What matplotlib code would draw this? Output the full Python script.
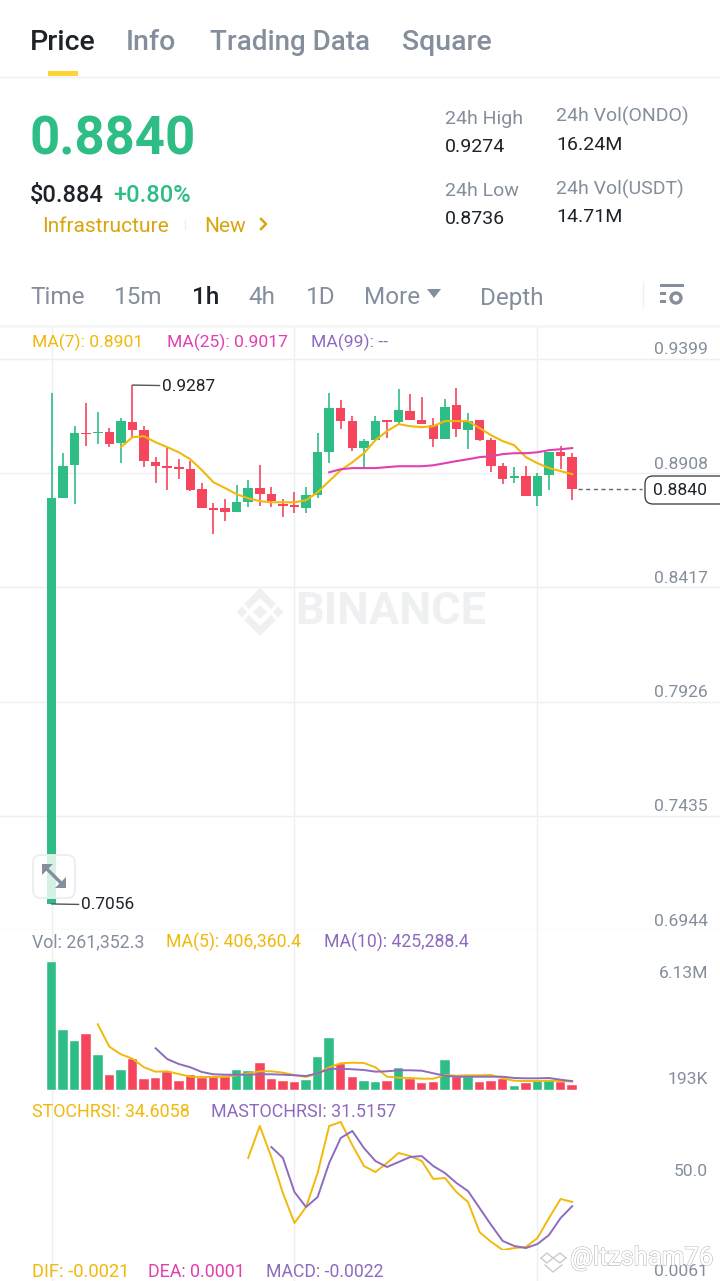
import numpy as np
import matplotlib
matplotlib.use('Agg')
import matplotlib.pyplot as plt
import matplotlib.patheffects as pe
from matplotlib.patches import FancyBboxPatch, Polygon, Rectangle, Circle

plt.rcParams['font.family'] = ['Roboto', 'DejaVu Sans']

# candles
opens = [.7056, .8800, .8942, .9082, .9080, .9084, .9037, .9127, .9093, .8955, .8938, .8934, .8925, .8839, .8757, .8757,
         .8740, .8783, .8844, .8818, .8775, .8770, .8757, .8813, .8998, .9188, .9132, .9016, .9050, .9136, .9127, .9175,
         .9136, .9114, .9054, .9200, .9093, .9136, .9050, .8938, .8886, .8895, .8809, .8899, .8998, .8977]
highs = [.9252, .8994, .9110, .9209, .9170, .9102, .9145, .9287, .9110, .8977, .9020, .8968, .8960, .8865, .8779, .8796,
         .8856, .8878, .8942, .8848, .8796, .8826, .8848, .9080, .9252, .9222, .9153, .9054, .9153, .9136, .9269, .9248,
         .9235, .9145, .9226, .9274, .9166, .9136, .9059, .8951, .8934, .8938, .8908, .8998, .9024, .8994]
lows = [.7056, .8800, .8775, .9024, .9033, .9020, .8951, .9063, .8934, .8865, .8835, .8882, .8831, .8757, .8646, .8702,
        .8740, .8762, .8766, .8762, .8719, .8736, .8736, .8800, .8951, .9097, .9003, .8930, .9050, .9059, .9114, .9136,
        .9119, .9020, .9054, .9063, .9011, .9046, .8912, .8861, .8865, .8809, .8766, .8835, .8925, .8792]
closes = [.8800, .8938, .9080, .9076, .9086, .9033, .9132, .9093, .8960, .8938, .8930, .8925, .8835, .8757, .8749, .8740,
          .8783, .8844, .8818, .8788, .8766, .8762, .8813, .8998, .9188, .9132, .9016, .9046, .9132, .9127, .9179, .9136,
          .9119, .9054, .9192, .9097, .9132, .9050, .8938, .8882, .8895, .8809, .8895, .8998, .8981, .8840]
ma7 = [.9020, .9063, .9067, .9041, .9020, .8998, .8968, .8921, .8869, .8844, .8818, .8800, .8788, .8783, .8783, .8783,
       .8792, .8826, .8874, .8921, .8955, .8994, .9050, .9089, .9119, .9110, .9106, .9110, .9132, .9132, .9132, .9102,
       .9071, .9046, .9028, .8977, .8951, .8930, .8917, .8904]
ma25 = [.8912, .8925, .8930, .8930, .8930, .8934, .8938, .8938, .8938, .8942, .8951, .8960, .8968, .8977, .8981, .8990,
        .8994, .8994, .8998, .9007, .9011, .9016]

# volume in thousands
volumes = [6130, 2874, 2361, 2682, 1676, 718, 943, 1499, 541, 589, 848, 431, 704, 560, 623, 623, 943, 910, 1279, 512, 431,
           383, 479, 1566, 2476, 1231, 637, 445, 383, 417, 1039, 512, 335, 369, 1423, 637, 623, 398, 417, 527, 192, 350,
           417, 417, 369, 261]
vol_ma5 = [3147, 2074, 1710, 1499, 1087, 877, 896, 766, 637, 623, 623, 637, 704, 800, 896, 896, 829, 719, 623, 800, 1087,
           1279, 1308, 1293, 1087, 637, 589, 575, 541, 541, 719, 685, 704, 704, 719, 560, 445, 431, 431, 445, 431, 406]
vol_ma10 = [1997, 1485, 1245, 1087, 862, 752, 733, 733, 733, 752, 752, 733, 704, 671, 800, 1006, 1020, 992, 958, 877, 896,
            944, 944, 925, 800, 685, 637, 637, 637, 637, 637, 575, 560, 560, 575, 493, 425]

stoch = [66.2, 89.2, 66.9, 41.0, 19.4, 30.9, 55.4, 89.2, 92.1, 75.5, 60.4, 56.1, 62.6, 69.8, 67.6, 64.0, 51.1, 51.8, 41.7,
         34.5, 12.9, 5.8, 0.0, 1.4, 2.2, 8.6, 23.0, 36.7, 34.6]
mastoch = [74.1, 66.2, 41.7, 30.9, 38.1, 62.6, 80.6, 85.6, 73.4, 64.0, 59.7, 63.3, 66.9, 67.6, 60.4, 55.4, 48.2, 42.4,
           30.2, 18.0, 6.5, 2.9, 1.4, 4.3, 10.8, 23.0, 31.5]

price_ticks = [0.9399, 0.8908, 0.8417, 0.7926, 0.7435, 0.6944]
time_ticks = [0, 21, 42]

GREEN = '#2EBD85'
RED = '#F6465D'
YELLOW = '#F0B90B'
PINK = '#E040B0'
PURPLE = '#8E6BBF'
GREY = '#848E9C'
DARK = '#1E2329'
LINE = '#EEEFF1'
MARK = '#EFF0F2'

W, H = 720, 1281
fig = plt.figure(figsize=(W / 100, H / 100), dpi=100, facecolor='white')


def panel(top, bottom):
    ax = fig.add_axes([0, 1 - bottom / H, 1, (bottom - top) / H])
    ax.set_xlim(-51.5 / 11.57, (W - 51.5) / 11.57)
    ax.set_xticks(time_ticks)
    ax.tick_params(length=0, labelbottom=False, labelleft=False)
    ax.grid(axis='x', color=LINE, lw=1)
    ax.set_axisbelow(True)
    for s in ['top', 'left', 'right']:
        ax.spines[s].set_visible(False)
    ax.spines['bottom'].set_color(LINE)
    return ax


ax_price = panel(326, 930)
ax_vol = panel(930, 1090)
ax_rsi = panel(1090, 1250)
ax_macd = panel(1250, H)
ax_macd.spines['bottom'].set_visible(False)
ax_macd.set_yticks([])

# price panel
per_px = 0.0491 / 114.2
ax_price.set_ylim(0.6944, 0.9399 + 33 * per_px)
ax_price.set_yticks(price_ticks)
ax_price.grid(axis='y', color=LINE, lw=1)
idx = np.arange(len(opens))
o = np.array(opens)
c = np.array(closes)
colors = [GREEN if b >= a else RED for a, b in zip(opens, closes)]
ax_price.vlines(idx, lows, highs, colors=colors, lw=1.2, zorder=3)
ax_price.bar(idx, np.abs(c - o), bottom=np.minimum(o, c), width=0.82, color=colors, zorder=3)
ax_price.plot(idx[6:], ma7, color=YELLOW, lw=1.5, zorder=4)
ax_price.plot(idx[24:], ma25, color=PINK, lw=1.5, zorder=4)
for p in price_ticks:
    ax_price.annotate(f'{p:.4f}', (1, p), xycoords=ax_price.get_yaxis_transform(), xytext=(-12, 9),
                      textcoords='offset pixels', ha='right', va='center', fontsize=12.6, color=GREY)

# callouts on the high, the low and the last price
ax_price.annotate('0.9287', (7, highs[7]), xytext=(30, -1), textcoords='offset pixels', va='center', fontsize=12.4,
                  color=DARK, arrowprops=dict(arrowstyle='-', color='#555', lw=1, shrinkA=0, shrinkB=0))
ax_price.annotate('0.7056', (0, lows[0]), xytext=(30, -1), textcoords='offset pixels', va='center', fontsize=12.4,
                  color=DARK, arrowprops=dict(arrowstyle='-', color='#555', lw=1, shrinkA=0, shrinkB=0))
ax_price.plot([45.5, 51], [closes[-1]] * 2, color='#666', lw=1, ls=(0, (3, 2.5)), zorder=4)

# volume panel
ax_vol.set_ylim(0, 160 * 6130 / 128)
ax_vol.set_yticks([])
ax_vol.bar(idx, volumes, width=0.82, color=colors, edgecolor='#ffffff', lw=0.3, zorder=3)
ax_vol.plot(idx[4:], vol_ma5, color=YELLOW, lw=1.4, zorder=4)
ax_vol.plot(idx[9:], vol_ma10, color=PURPLE, lw=1.4, zorder=4)

# stoch rsi panel
ax_rsi.set_ylim(0, 160 / 1.39)
ax_rsi.set_yticks([])
ax_rsi.plot(idx[17:], stoch, color=YELLOW, lw=1.4, zorder=4, clip_on=False)
ax_rsi.plot(idx[19:], mastoch, color=PURPLE, lw=1.4, zorder=4, clip_on=False)

# overlay in pixels for the app chrome
ui = fig.add_axes([0, 0, 1, 1], zorder=10)
ui.set_xlim(0, W)
ui.set_ylim(H, 0)
ui.axis('off')
ui.patch.set_alpha(0)


def label(x, y, s, size, color=GREY, **kw):
    # roboto sits a bit high with va=center
    ui.text(x, y + 2, s, fontsize=size, color=color, va='center', **kw)


label(30, 40, 'Price', 20.5, DARK, fontweight='medium')
label(126, 40, 'Info', 20.5, fontweight='medium')
label(210, 40, 'Trading Data', 20, fontweight='medium')
label(402, 40, 'Square', 20.5, fontweight='medium')
ui.add_patch(Rectangle((48, 71), 30, 5, color='#FCD535', lw=0))
ui.plot([0, W], [76.5, 76.5], color=LINE, lw=1)

label(30, 138, '0.8840', 38, GREEN, fontweight='bold')
label(30, 193, '$0.884', 17, DARK, fontweight='medium')
label(113, 193, '+0.80%', 17, GREEN, fontweight='medium')
label(42, 224, 'Infrastructure', 15, '#D9A50D')
label(204, 224, 'New', 15, '#D9A50D')
ui.plot([185, 185], [220, 229], color=LINE, lw=1)
ui.plot([261, 266, 261], [219, 224, 229], color='#D9A50D', lw=1.8)

label(445, 117, '24h High', 14)
label(445, 145, '0.9274', 14, DARK)
label(556, 114, '24h Vol(ONDO)', 14)
label(556, 143, '16.24M', 14, DARK)
label(445, 189, '24h Low', 14)
label(445, 217, '0.8736', 14, DARK)
label(556, 187, '24h Vol(USDT)', 14)
label(556, 215, '14.71M', 14, DARK)

label(30, 296, 'Time', 17.5)
label(114, 296, '15m', 17.5)
label(192, 296, '1h', 17.5, DARK, fontweight='medium')
label(248, 296, '4h', 17.5)
label(306, 296, '1D', 17.5)
label(364, 296, 'More', 17.5)
ui.add_patch(Polygon([(427, 289), (441, 289), (434, 298)], color=GREY, lw=0))
label(480, 296, 'Depth', 17.5)
ui.plot([642.5, 642.5], [283, 306], color=LINE, lw=1)
ui.add_patch(Rectangle((660, 284), 24, 2.5, color=GREY, lw=0))
ui.add_patch(Rectangle((660, 292), 6, 3, color=GREY, lw=0))
ui.add_patch(Rectangle((660, 300), 6, 3, color=GREY, lw=0))
ui.add_patch(Circle((676, 298), 5, fc='white', ec=GREY, lw=2.4))
ui.plot([0, W], [325.5, 325.5], color='#F5F5F6', lw=2)

label(32, 340, 'MA(7): 0.8901', 12.6, YELLOW)
label(167, 340, 'MA(25): 0.9017', 12.6, PINK)
label(311, 340, 'MA(99): --', 12.6, PURPLE)
label(32, 940, 'Vol: 261,352.3', 12.8)
label(166, 940, 'MA(5): 406,360.4', 12.7, YELLOW)
label(324, 940, 'MA(10): 425,288.4', 12.7, PURPLE)
label(32, 1110, 'STOCHRSI: 34.6058', 12.9, YELLOW)
label(211, 1110, 'MASTOCHRSI: 31.5157', 12.9, PURPLE)
label(32, 1270, 'DIF: -0.0021', 13.2, YELLOW)
label(148, 1270, 'DEA: 0.0001', 12.9, PINK)
label(266, 1270, 'MACD: -0.0022', 12.7, PURPLE)

label(708, 971, '6.13M', 12.6, ha='right')
label(708, 1077, '193K', 12.6, ha='right')
label(708, 1169, '50.0', 12.6, ha='right')
label(708, 1270, '0.0061', 12.6, ha='right')

# last price tag
ui.add_patch(FancyBboxPatch((645, 476), 90, 28, boxstyle='round,pad=0,rounding_size=8', fc='white', ec='#333', lw=0.9))
label(680, 488.5, '0.8840', 12.6, DARK, ha='center')

# expand button over the first candle
ui.add_patch(FancyBboxPatch((33, 855), 42, 43, boxstyle='round,pad=0,rounding_size=8', fc=(1, 1, 1, 0.8),
                            ec='#ECEDEF', lw=1.3))
ui.plot([45, 63], [867, 885], color=GREY, lw=2.4)
ui.add_patch(Polygon([(42, 864), (53, 864), (42, 875)], color=GREY, lw=0))
ui.add_patch(Polygon([(66, 888), (55, 888), (66, 877)], color=GREY, lw=0))

# watermarks
label(295, 610, 'BINANCE', 32.5, MARK, fontweight='bold')
ui.add_patch(Polygon([(260, 588), (276, 604), (271, 609), (260, 598), (249, 609), (244, 604)], color=MARK, lw=0))
ui.add_patch(Polygon([(260, 636), (276, 620), (271, 615), (260, 626), (249, 615), (244, 620)], color=MARK, lw=0))
for cx, r in [(260, 7), (242, 5.5), (278, 5.5)]:
    ui.add_patch(Polygon([(cx - r, 612), (cx, 612 - r), (cx + r, 612), (cx, 612 + r)], color=MARK, lw=0))

label(570, 1256, '@ltzsham76', 18.5, 'white',
      path_effects=[pe.withStroke(linewidth=1.1, foreground='#BFC2C6'), pe.Normal()])
ui.plot([541, 547, 553, 560, 566], [1258, 1253, 1258, 1253, 1258], color='#C9CBCE', lw=1)
ui.plot([541, 547, 553, 560, 566], [1258, 1263, 1258, 1263, 1258], color='#C9CBCE', lw=1)
ui.plot([545, 553, 562], [1265, 1272, 1265], color='#C9CBCE', lw=1)

fig.savefig('out.png', dpi=100)
